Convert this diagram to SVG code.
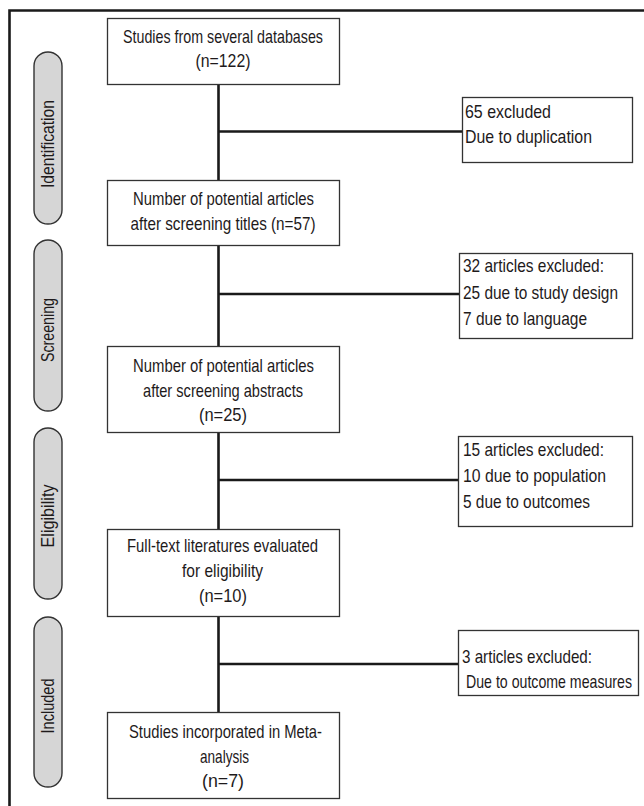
<svg xmlns="http://www.w3.org/2000/svg" width="644" height="806" viewBox="0 0 644 806">
<style>
.box{fill:#fff;stroke:#333;stroke-width:1.3}
.pill{fill:#d6d6d6;stroke:#333;stroke-width:1.4}
.t{font-family:"Liberation Sans",Arial,sans-serif;font-size:18.5px;fill:#1e1a1b}
.c{text-anchor:middle}
.conn{stroke:#1a1a1a;stroke-width:2.6;fill:none}
</style>
<rect width="644" height="806" fill="#fff"/>
<g id="frame">
<path d="M9.5,806 V10.5 H644" fill="none" stroke="#1a1a1a" stroke-width="2.6"/>
</g>
<g id="connectors">
<path class="conn" d="M218.5,85 V180 M218.5,131.5 H462"/>
<path class="conn" d="M218.5,246 V346 M218.5,294 H459"/>
<path class="conn" d="M218.5,433 V529 M218.5,480 H458"/>
<path class="conn" d="M218.5,617 V712 M218.5,664 H458"/>
</g>
<g id="phase-identification">
<rect class="pill" x="34" y="52" width="28" height="172" rx="14"/>
<text class="t c" transform="translate(54,144) rotate(-90)" textLength="88" lengthAdjust="spacingAndGlyphs">Identification</text>
</g>
<g id="phase-screening">
<rect class="pill" x="34" y="240" width="28" height="171" rx="14"/>
<text class="t c" transform="translate(54,330) rotate(-90)" textLength="64" lengthAdjust="spacingAndGlyphs">Screening</text>
</g>
<g id="phase-eligibility">
<rect class="pill" x="34" y="428" width="28" height="171" rx="14"/>
<text class="t c" transform="translate(54,516) rotate(-90)" textLength="63" lengthAdjust="spacingAndGlyphs">Eligibility</text>
</g>
<g id="phase-included">
<rect class="pill" x="34" y="617" width="28" height="170" rx="14"/>
<text class="t c" transform="translate(54,706) rotate(-90)" textLength="55" lengthAdjust="spacingAndGlyphs">Included</text>
</g>
<g id="box1">
<rect class="box" x="107.5" y="18.5" width="232" height="66"/>
<text class="t c" x="223" y="43" textLength="200" lengthAdjust="spacingAndGlyphs">Studies from several databases</text>
<text class="t c" x="223" y="67" textLength="55" lengthAdjust="spacingAndGlyphs">(n=122)</text>
</g>
<g id="box2">
<rect class="box" x="107.5" y="180.5" width="232" height="65"/>
<text class="t c" x="223.5" y="205" textLength="181" lengthAdjust="spacingAndGlyphs">Number of potential articles</text>
<text class="t c" x="223" y="230" textLength="185" lengthAdjust="spacingAndGlyphs">after screening titles (n=57)</text>
</g>
<g id="box3">
<rect class="box" x="107.5" y="346.5" width="232" height="86"/>
<text class="t c" x="223.5" y="372" textLength="181" lengthAdjust="spacingAndGlyphs">Number of potential articles</text>
<text class="t c" x="223" y="397" textLength="160" lengthAdjust="spacingAndGlyphs">after screening abstracts</text>
<text class="t c" x="223" y="421" textLength="48" lengthAdjust="spacingAndGlyphs">(n=25)</text>
</g>
<g id="box4">
<rect class="box" x="107.5" y="529.5" width="232" height="87"/>
<text class="t c" x="222.5" y="552" textLength="191" lengthAdjust="spacingAndGlyphs">Full-text literatures evaluated</text>
<text class="t c" x="222.5" y="577" textLength="81" lengthAdjust="spacingAndGlyphs">for eligibility</text>
<text class="t c" x="223" y="602" textLength="48" lengthAdjust="spacingAndGlyphs">(n=10)</text>
</g>
<g id="box5">
<rect class="box" x="107.5" y="712.5" width="232" height="86"/>
<text class="t c" x="225.5" y="738" textLength="193" lengthAdjust="spacingAndGlyphs">Studies incorporated in Meta-</text>
<text class="t c" x="224.5" y="763" textLength="49" lengthAdjust="spacingAndGlyphs">analysis</text>
<text class="t c" x="223" y="787" textLength="42" lengthAdjust="spacingAndGlyphs">(n=7)</text>
</g>
<g id="excl1">
<rect class="box" x="462.5" y="97.5" width="170" height="65"/>
<text class="t" x="465" y="118" textLength="86" lengthAdjust="spacingAndGlyphs">65 excluded</text>
<text class="t" x="465" y="143" textLength="127" lengthAdjust="spacingAndGlyphs">Due to duplication</text>
</g>
<g id="excl2">
<rect class="box" x="459.5" y="253.5" width="173" height="85"/>
<text class="t" x="463" y="272" textLength="141" lengthAdjust="spacingAndGlyphs">32 articles excluded:</text>
<text class="t" x="463" y="299" textLength="155" lengthAdjust="spacingAndGlyphs">25 due to study design</text>
<text class="t" x="463" y="325" textLength="124" lengthAdjust="spacingAndGlyphs">7 due to language</text>
</g>
<g id="excl3">
<rect class="box" x="458.5" y="436.5" width="174" height="90"/>
<text class="t" x="463" y="456" textLength="141" lengthAdjust="spacingAndGlyphs">15 articles excluded:</text>
<text class="t" x="463" y="482" textLength="143" lengthAdjust="spacingAndGlyphs">10 due to population</text>
<text class="t" x="463" y="508" textLength="127" lengthAdjust="spacingAndGlyphs">5 due to outcomes</text>
</g>
<g id="excl4">
<rect class="box" x="458.5" y="630.5" width="180" height="65"/>
<text class="t" x="462" y="663" textLength="130" lengthAdjust="spacingAndGlyphs">3 articles excluded:</text>
<text class="t" x="466" y="688" textLength="166" lengthAdjust="spacingAndGlyphs">Due to outcome measures</text>
</g>
</svg>
